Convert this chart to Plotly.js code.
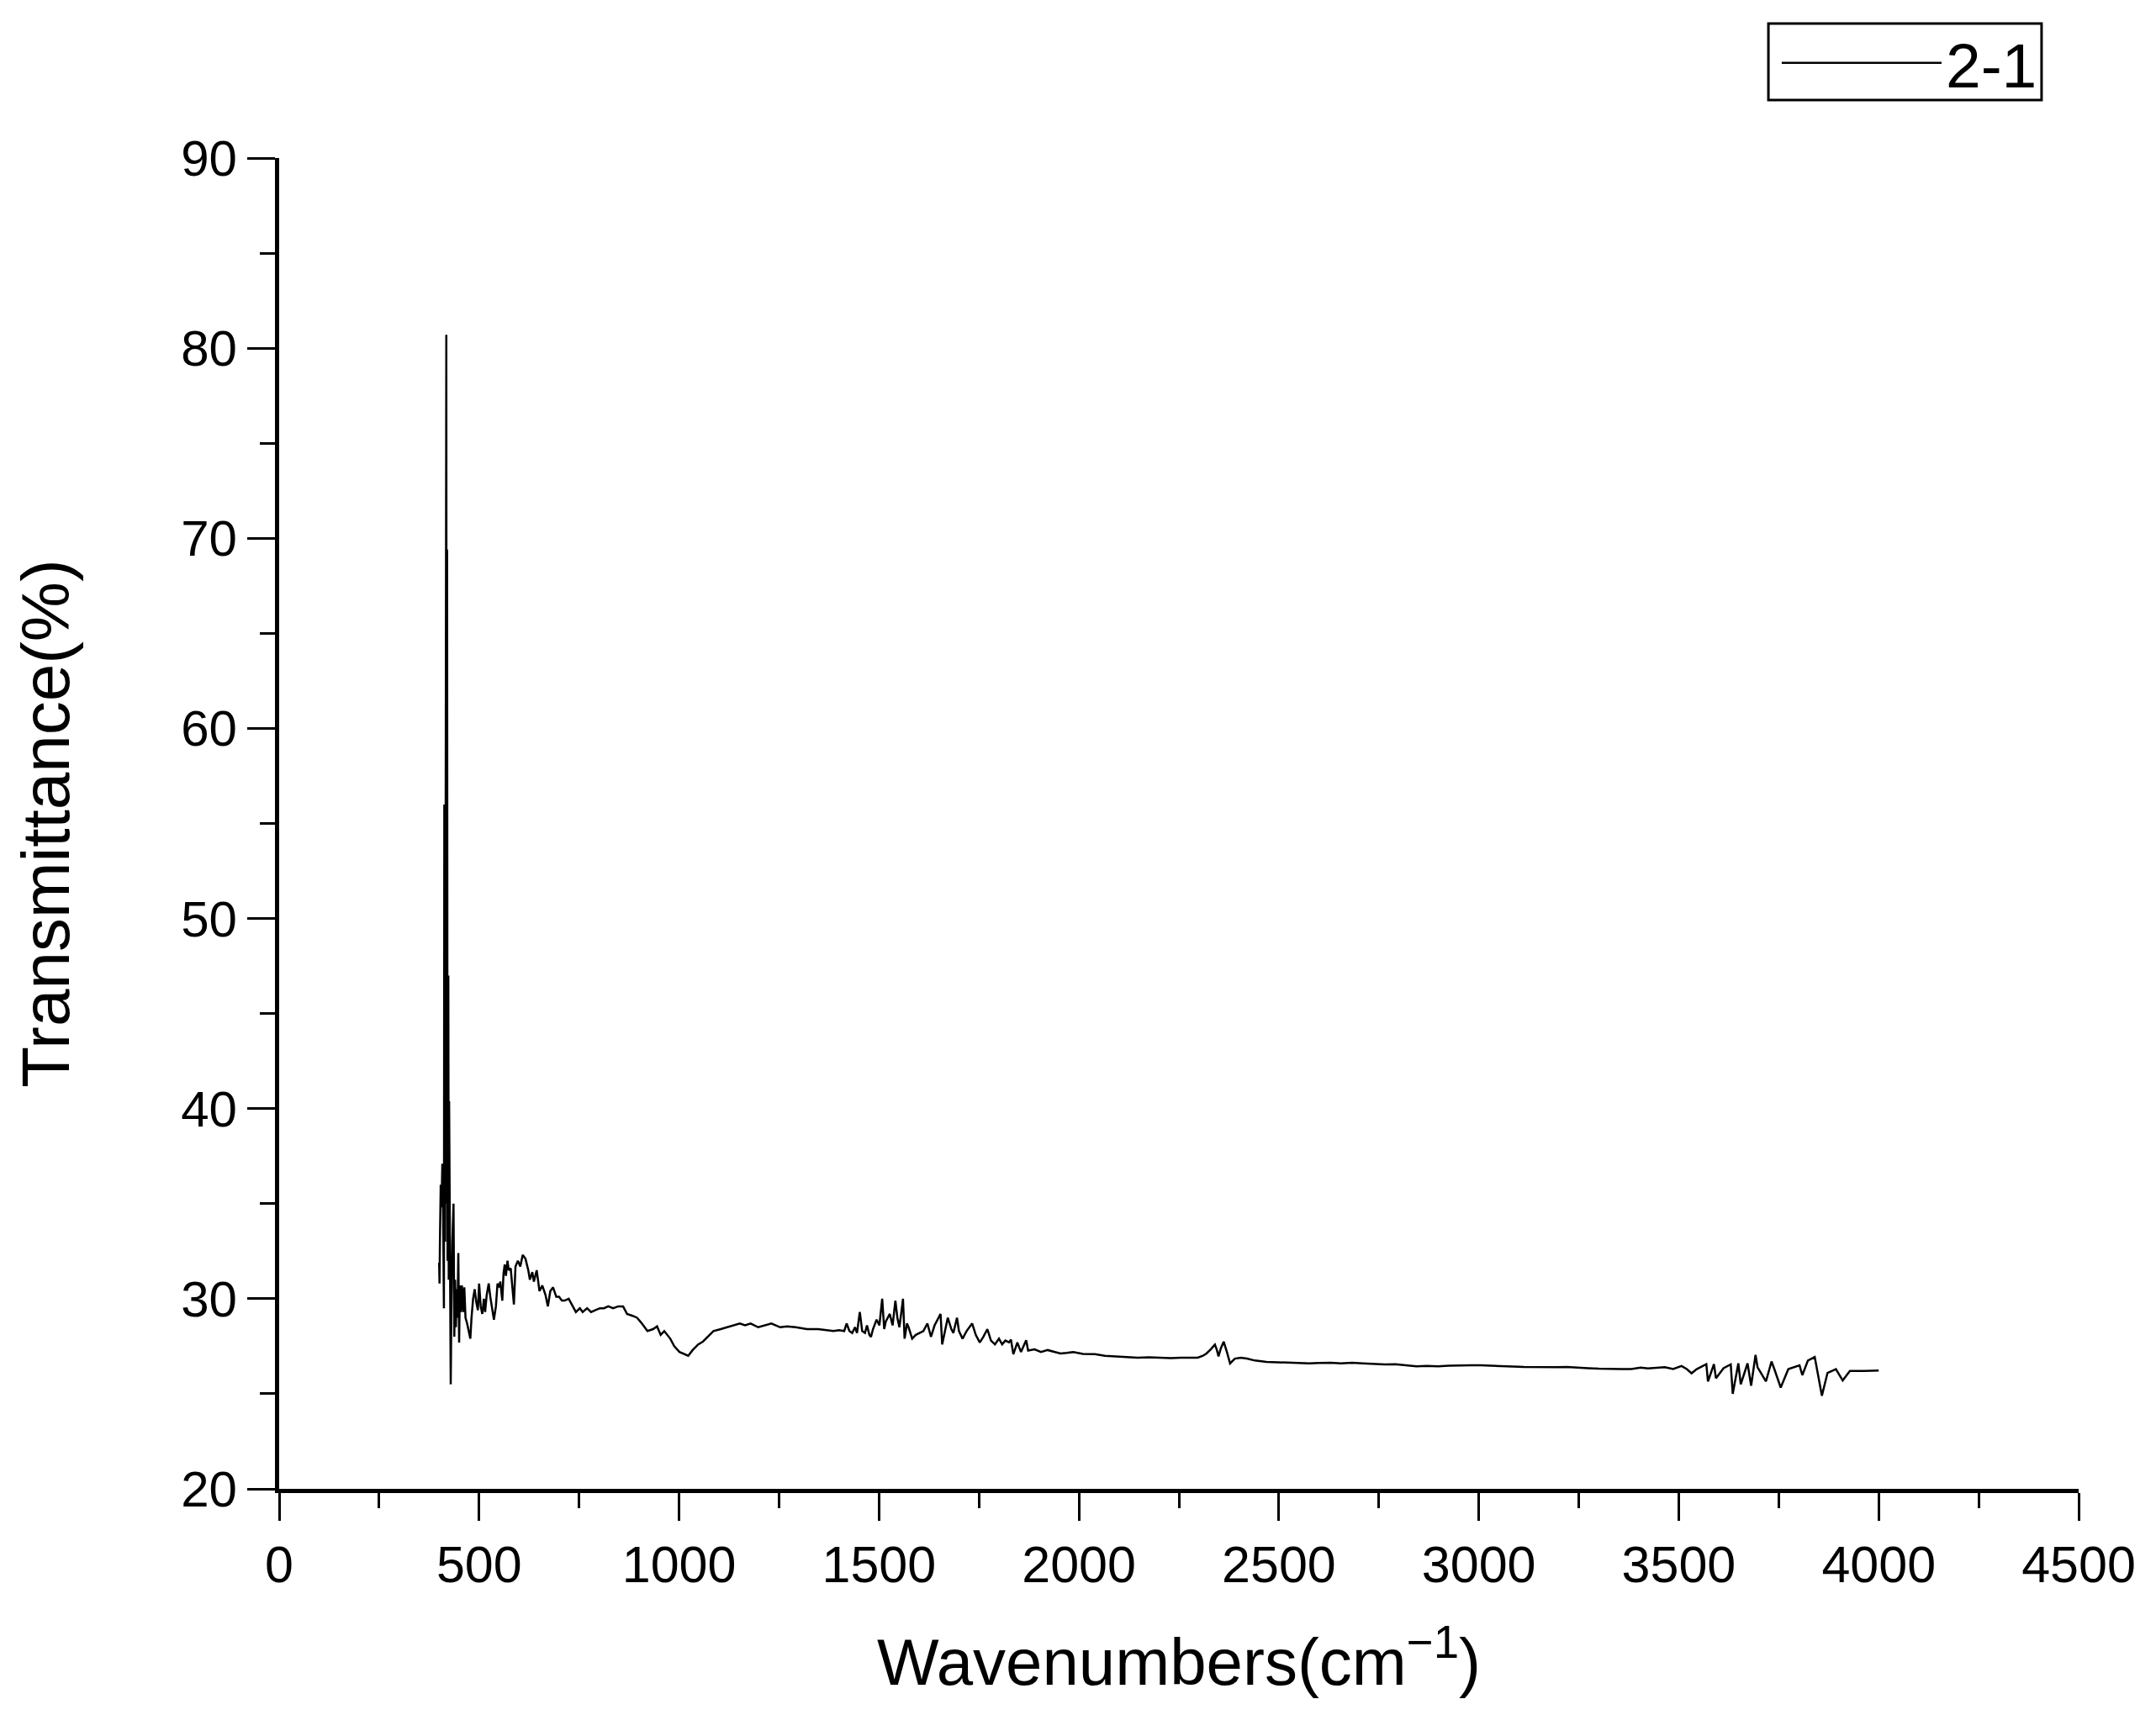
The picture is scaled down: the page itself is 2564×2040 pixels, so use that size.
<!DOCTYPE html>
<html>
<head>
<meta charset="utf-8">
<script src="https://cdn.plot.ly/plotly-3.0.1.min.js"></script>
<style>
  html, body { margin: 0; padding: 0; background: #ffffff; }
  #chart { width: 2564px; height: 2040px; }
</style>
</head>
<body>
<div id="chart"></div>
<script>
// Series name
const seriesName = "2-1";

// Wavenumbers (cm^-1)
const wavenumbers = [
  400, 401, 402, 404, 406, 408, 410, 412, 413, 415, 418, 419, 420, 421, 423, 424, 425, 427, 429, 431,
  433, 436, 438, 440, 442, 444, 446, 448, 450, 452, 454, 457, 460, 463, 466, 470, 474, 478, 481, 485,
  489, 493, 497, 500, 504, 508, 512, 515, 519, 524, 528, 532, 537, 542, 546, 550, 553, 558, 561, 564,
  567, 571, 574, 579, 583, 587, 591, 597, 603, 609, 616, 623, 627, 633, 637, 644, 651, 658, 666, 672,
  678, 685, 693, 700, 707, 714, 724, 731, 742, 752, 759, 770, 780, 791, 802, 812, 823, 835, 848, 860,
  870, 884, 895, 907, 921, 935, 945, 954, 963, 978, 988, 1001, 1012, 1023, 1034, 1048, 1060, 1067, 1086, 1104,
  1120, 1132, 1152, 1165, 1179, 1198, 1215, 1231, 1253, 1270, 1292, 1320, 1348, 1370, 1386, 1400, 1413, 1419, 1426, 1433,
  1440, 1445, 1452, 1458, 1465, 1470, 1476, 1480, 1485, 1494, 1501, 1508, 1513, 1517, 1527, 1534, 1541, 1546, 1551, 1556,
  1560, 1564, 1570, 1574, 1583, 1592, 1602, 1611, 1621, 1630, 1639, 1644, 1654, 1658, 1668, 1672, 1681, 1686, 1695, 1700,
  1709, 1719, 1733, 1742, 1752, 1761, 1771, 1780, 1790, 1800, 1808, 1816, 1825, 1830, 1836, 1846, 1855, 1868, 1873, 1889,
  1905, 1922, 1940, 1954, 1970, 1986, 2010, 2040, 2065, 2093, 2120, 2147, 2175, 2201, 2230, 2254, 2280, 2297, 2310, 2319,
  2330, 2340, 2345, 2349, 2355, 2362, 2370, 2378, 2390, 2405, 2420, 2440, 2469, 2495, 2523, 2550, 2576, 2600, 2630, 2655,
  2683, 2710, 2737, 2765, 2791, 2820, 2844, 2870, 2898, 2925, 2952, 2980, 3005, 3030, 3059, 3085, 3113, 3140, 3166, 3195,
  3220, 3245, 3273, 3300, 3327, 3355, 3381, 3405, 3423, 3444, 3465, 3486, 3507, 3520, 3532, 3545, 3569, 3573, 3588, 3593,
  3612, 3630, 3635, 3649, 3655, 3672, 3681, 3692, 3697, 3718, 3732, 3739, 3755, 3774, 3802, 3809, 3823, 3840, 3858, 3872,
  3893, 3910, 3928, 3963, 4000
];

// Transmittance (%)
const transmittance = [
  31.9, 30.8, 32.9, 36.0, 34.8, 37.1, 34.4, 29.5, 56.0, 33.0, 80.7, 35.0, 69.4, 32.0, 47.0, 31.0, 40.4, 28.2, 25.5, 30.0,
  33.0, 35.0, 28.0, 31.0, 28.5, 30.5, 29.0, 32.4, 27.7, 30.7, 29.3, 30.7, 29.3, 30.6, 29.0, 28.7, 28.3, 27.9, 29.0, 30.0,
  30.5, 29.8, 29.4, 30.8, 29.6, 29.2, 30.0, 29.3, 30.2, 30.8, 30.1, 29.5, 28.9, 29.6, 30.8, 30.6, 30.9, 29.9, 31.3, 31.8,
  31.2, 32.0, 31.5, 31.6, 30.8, 29.7, 31.7, 32.0, 31.7, 32.3, 32.1, 31.5, 31.0, 31.4, 30.9, 31.5, 30.4, 30.7, 30.2, 29.6,
  30.4, 30.6, 30.1, 30.1, 29.9, 29.9, 30.0, 29.7, 29.3, 29.5, 29.3, 29.5, 29.3, 29.4, 29.5, 29.5, 29.6, 29.5, 29.6, 29.6,
  29.2, 29.1, 29.0, 28.7, 28.3, 28.4, 28.55, 28.1, 28.3, 27.9, 27.5, 27.2, 27.1, 27.0, 27.3, 27.6, 27.75, 27.9, 28.3, 28.4,
  28.5, 28.6, 28.7, 28.6, 28.7, 28.5, 28.6, 28.7, 28.5, 28.55, 28.5, 28.4, 28.4, 28.35, 28.3, 28.35, 28.3, 28.7, 28.3, 28.2,
  28.5, 28.2, 29.3, 28.3, 28.2, 28.6, 28.1, 28.0, 28.4, 28.9, 28.6, 30.0, 28.4, 28.8, 29.2, 28.6, 29.9, 29.0, 28.5, 29.3,
  30.0, 27.9, 28.7, 28.5, 27.9, 28.1, 28.2, 28.3, 28.7, 28.0, 28.6, 28.8, 29.2, 27.6, 28.6, 29.0, 28.4, 28.2, 29.0, 28.3,
  27.9, 28.3, 28.7, 28.1, 27.7, 28.0, 28.4, 27.8, 27.6, 27.9, 27.6, 27.8, 27.71, 27.85, 27.08, 27.7, 27.2, 27.82, 27.27, 27.34,
  27.2, 27.3, 27.2, 27.12, 27.15, 27.2, 27.1, 27.09, 27.0, 26.97, 26.95, 26.9, 26.92, 26.9, 26.88, 26.9, 26.92, 26.9, 27.0, 27.12,
  27.35, 27.59, 27.3, 26.97, 27.4, 27.74, 27.2, 26.6, 26.85, 26.9, 26.85, 26.75, 26.68, 26.66, 26.65, 26.62, 26.6, 26.62, 26.63, 26.6,
  26.63, 26.6, 26.56, 26.55, 26.56, 26.5, 26.45, 26.47, 26.45, 26.48, 26.5, 26.5, 26.5, 26.47, 26.45, 26.43, 26.41, 26.4, 26.38, 26.4,
  26.41, 26.37, 26.35, 26.32, 26.3, 26.3, 26.3, 26.38, 26.33, 26.36, 26.4, 26.3, 26.46, 26.3, 26.08, 26.3, 26.56, 25.65, 26.56, 25.82,
  26.35, 26.55, 25.0, 26.6, 25.5, 26.6, 25.43, 27.04, 26.4, 25.65, 26.7, 26.3, 25.33, 26.3, 26.5, 25.98, 26.75, 26.94, 24.9, 26.1,
  26.3, 25.7, 26.2, 26.2, 26.22
];

// Axis settings
const xTickValues = [0, 500, 1000, 1500, 2000, 2500, 3000, 3500, 4000, 4500];
const yTickValues = [20, 30, 40, 50, 60, 70, 80, 90];

const fontFamily = "Arial, 'Liberation Sans', sans-serif";

const trace = {
  x: wavenumbers,
  y: transmittance,
  type: "scatter",
  mode: "lines",
  name: seriesName,
  line: { color: "#000000", width: 2.5 }
};

const layout = {
  width: 2564,
  height: 2040,
  paper_bgcolor: "#ffffff",
  plot_bgcolor: "#ffffff",
  margin: { l: 332, r: 92, t: 188, b: 269, pad: 0 },
  font: { family: fontFamily, color: "#000000", size: 60 },
  showlegend: true,
  legend: {
    x: 0.9794, xanchor: "right",
    y: 1.0714, yanchor: "middle",
    borderwidth: 0,
    bgcolor: "rgba(0,0,0,0)",
    font: { family: fontFamily, size: 75, color: "#000000" },
    itemwidth: 190,
    tracegroupgap: 0
  },
  shapes: [
    {
      type: "rect", xref: "paper", yref: "paper",
      x0: 0.8276, x1: 0.9794, y0: 1.0436, y1: 1.1011,
      line: { color: "#000000", width: 3 },
      fillcolor: "rgba(0,0,0,0)",
      layer: "above"
    }
  ],
  xaxis: {
    range: [0, 4500],
    tickvals: xTickValues,
    ticktext: xTickValues.map(String),
    ticks: "outside", ticklen: 33, tickwidth: 3, tickcolor: "#000000",
    minor: { ticks: "outside", dtick: 250, ticklen: 18, tickwidth: 3, tickcolor: "#000000" },
    showline: true, linewidth: 5, linecolor: "#000000",
    showgrid: false, zeroline: false, mirror: false,
    tickfont: { family: fontFamily, size: 61, color: "#000000" },
    title: { text: "Wavenumbers(cm<sup>\u22121</sup>)", font: { family: fontFamily, size: 78, color: "#000000" }, standoff: 57 }
  },
  yaxis: {
    range: [20, 90],
    tickvals: yTickValues,
    ticktext: yTickValues.map(String),
    ticks: "outside", ticklen: 33, tickwidth: 3, tickcolor: "#000000",
    minor: { ticks: "outside", dtick: 5, ticklen: 18, tickwidth: 3, tickcolor: "#000000" },
    showline: true, linewidth: 5, linecolor: "#000000",
    showgrid: false, zeroline: false, mirror: false,
    tickfont: { family: fontFamily, size: 60, color: "#000000" },
    title: { text: "Transmittance(%)", font: { family: fontFamily, size: 80, color: "#000000" }, standoff: 108 }
  }
};

Plotly.newPlot("chart", [trace], layout, { displayModeBar: false, staticPlot: true });
</script>
</body>
</html>
